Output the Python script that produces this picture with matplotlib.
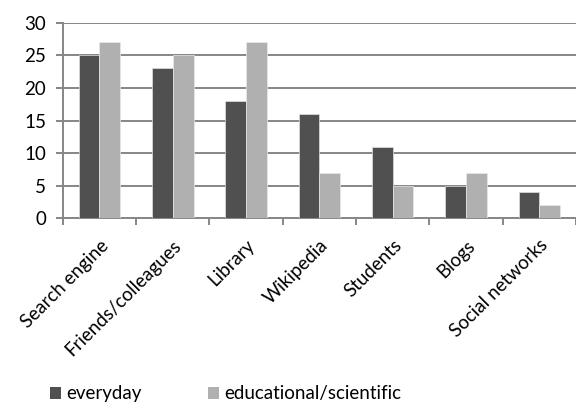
import numpy as np
import matplotlib.pyplot as plt
from matplotlib.patches import Patch

sources = ["Search engine", "Friends/colleagues", "Library", "Wikipedia",
           "Students", "Blogs", "Social networks"]
everyday = [25, 23, 18, 16, 11, 5, 4]
educational = [27, 25, 27, 7, 5, 7, 2]

dark = "#505050"
light = "#b0b0b0"
grid_c = "#868686"

plt.rcParams['font.family'] = ['Lato', 'DejaVu Sans']

fig = plt.figure(figsize=(5.76, 4.05), dpi=100)
ax = fig.add_axes([0.109, 0.4605, 0.891, 0.4835])

x = np.arange(len(sources))
w = 0.283
ax.bar(x - w / 2, everyday, w, color=dark, edgecolor="#e0e0e0", linewidth=0.5, zorder=3)
ax.bar(x + w / 2, educational, w, color=light, edgecolor="#e8e8e8", linewidth=0.5, zorder=3)

ax.set_xlim(-0.5, len(sources) - 0.5)
ax.set_ylim(0, 30)
ax.set_yticks(range(0, 31, 5))
ax.yaxis.grid(True, color=grid_c, linewidth=1.4, zorder=0)
ax.set_axisbelow(True)

for s in ["top", "right"]:
    ax.spines[s].set_visible(False)
for s in ["left", "bottom"]:
    ax.spines[s].set_color(grid_c)
    ax.spines[s].set_linewidth(1.4)

ax.tick_params(axis="y", length=5, color=grid_c, width=1.4, labelsize=13.5, pad=7)
ax.set_xticks(x)
ax.set_xticklabels(sources, rotation=45, ha="right", rotation_mode="anchor", fontsize=13.5)
ax.tick_params(axis="x", which="major", length=0, pad=13)
ax.set_xticks(np.arange(-0.5, len(sources), 1), minor=True)
ax.tick_params(axis="x", which="minor", length=5, color=grid_c, width=1.4)

handles = [Patch(facecolor=dark, label="everyday"),
           Patch(facecolor=light, label="educational/scientific")]
fig.legend(handles=handles, loc="lower left", bbox_to_anchor=(0.057, -0.035), ncol=2,
           frameon=False, fontsize=13.5, handlelength=0.6, handleheight=0.6,
           handletextpad=0.3, columnspacing=3.5)

fig.savefig("out.png", dpi=100)
